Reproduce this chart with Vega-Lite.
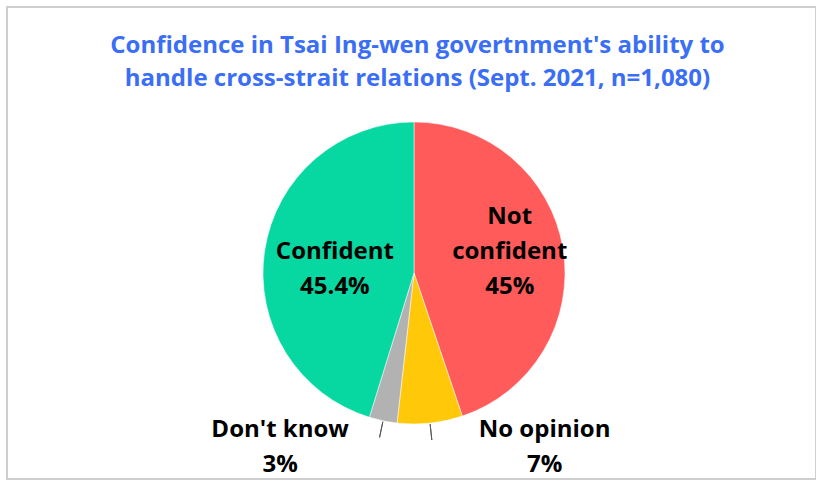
{
  "$schema": "https://vega.github.io/schema/vega-lite/v6.json",
  "width": 809,
  "height": 472,
  "autosize": {"type": "none"},
  "padding": {"left": 7, "top": 7, "right": 0, "bottom": 3},
  "background": "white",
  "view": {"stroke": "#cfcfcf", "strokeWidth": 2, "fill": "white"},
  "title": {
    "text": ["Confidence in Tsai Ing-wen govertnment's ability to", "handle cross-strait relations (Sept. 2021, n=1,080)"],
    "font": "Open Sans",
    "fontSize": 24,
    "fontWeight": "bold",
    "color": "#3A6EF5",
    "anchor": "middle",
    "frame": "group",
    "offset": -84,
    "lineHeight": 33,
    "dx": 6
  },
  "data": {
    "values": [
      {"category": "Not confident", "name": "Not\nconfident", "value": 45, "order": 1},
      {"category": "No opinion", "name": "No opinion", "value": 7, "order": 2},
      {"category": "Don't know", "name": "Don't know", "value": 3, "order": 3},
      {"category": "Confident", "name": "Confident", "value": 45.4, "order": 4}
    ]
  },
  "transform": [
    {"stack": "value", "groupby": [], "sort": [{"field": "order", "order": "ascending"}], "as": ["s0", "s1"]},
    {"calculate": "(datum.s0 + datum.s1) / 2", "as": "mid"},
    {"calculate": "datum.name + '\\n' + datum.value + '%'", "as": "lbl"}
  ],
  "layer": [
    {
      "mark": {"type": "arc", "outerRadius": 151, "xOffset": 2.5, "yOffset": 30, "stroke": "white", "strokeWidth": 0.5},
      "encoding": {
        "theta": {"field": "s1", "type": "quantitative", "stack": null},
        "theta2": {"field": "s0"},
        "color": {
          "field": "category",
          "type": "nominal",
          "scale": {
            "domain": ["Not confident", "No opinion", "Don't know", "Confident"],
            "range": ["#FF5B5B", "#FFC90A", "#B2B2B2", "#07D7A1"]
          },
          "legend": null
        }
      }
    },
    {
      "transform": [{"filter": "datum.order == 2 || datum.order == 3"}],
      "mark": {"type": "arc", "innerRadius": 152, "outerRadius": 168, "xOffset": 2.5, "yOffset": 30, "stroke": "#595959", "strokeWidth": 1, "fill": null},
      "encoding": {
        "theta": {"field": "mid", "type": "quantitative", "stack": null},
        "theta2": {"field": "mid"}
      }
    },
    {
      "transform": [{"filter": "datum.order == 1"}],
      "mark": {"type": "text", "radius": 97, "xOffset": 2.5, "yOffset": 30, "dy": -40, "font": "Open Sans", "fontSize": 24, "fontWeight": "bold", "lineBreak": "\n", "lineHeight": 35, "align": "center", "baseline": "middle", "color": "black"},
      "encoding": {
        "theta": {"field": "mid", "type": "quantitative", "stack": null},
        "text": {"field": "lbl"}
      }
    },
    {
      "transform": [{"filter": "datum.order == 4"}],
      "mark": {"type": "text", "radius": 80, "xOffset": 2.5, "yOffset": 30, "dy": -9, "font": "Open Sans", "fontSize": 24, "fontWeight": "bold", "lineBreak": "\n", "lineHeight": 35, "align": "center", "baseline": "middle", "color": "black"},
      "encoding": {
        "theta": {"field": "mid", "type": "quantitative", "stack": null},
        "text": {"field": "lbl"}
      }
    },
    {
      "transform": [{"filter": "datum.order == 2"}],
      "mark": {"type": "text", "radius": 175, "xOffset": 2.5, "yOffset": 30, "dx": 112, "dy": -17, "font": "Open Sans", "fontSize": 24, "fontWeight": "bold", "lineBreak": "\n", "lineHeight": 35, "align": "center", "baseline": "middle", "color": "black"},
      "encoding": {
        "theta": {"field": "mid", "type": "quantitative", "stack": null},
        "text": {"field": "lbl"}
      }
    },
    {
      "transform": [{"filter": "datum.order == 3"}],
      "mark": {"type": "text", "radius": 175, "xOffset": 2.5, "yOffset": 30, "dx": -98, "dy": -14, "font": "Open Sans", "fontSize": 24, "fontWeight": "bold", "lineBreak": "\n", "lineHeight": 35, "align": "center", "baseline": "middle", "color": "black"},
      "encoding": {
        "theta": {"field": "mid", "type": "quantitative", "stack": null},
        "text": {"field": "lbl"}
      }
    }
  ]
}
